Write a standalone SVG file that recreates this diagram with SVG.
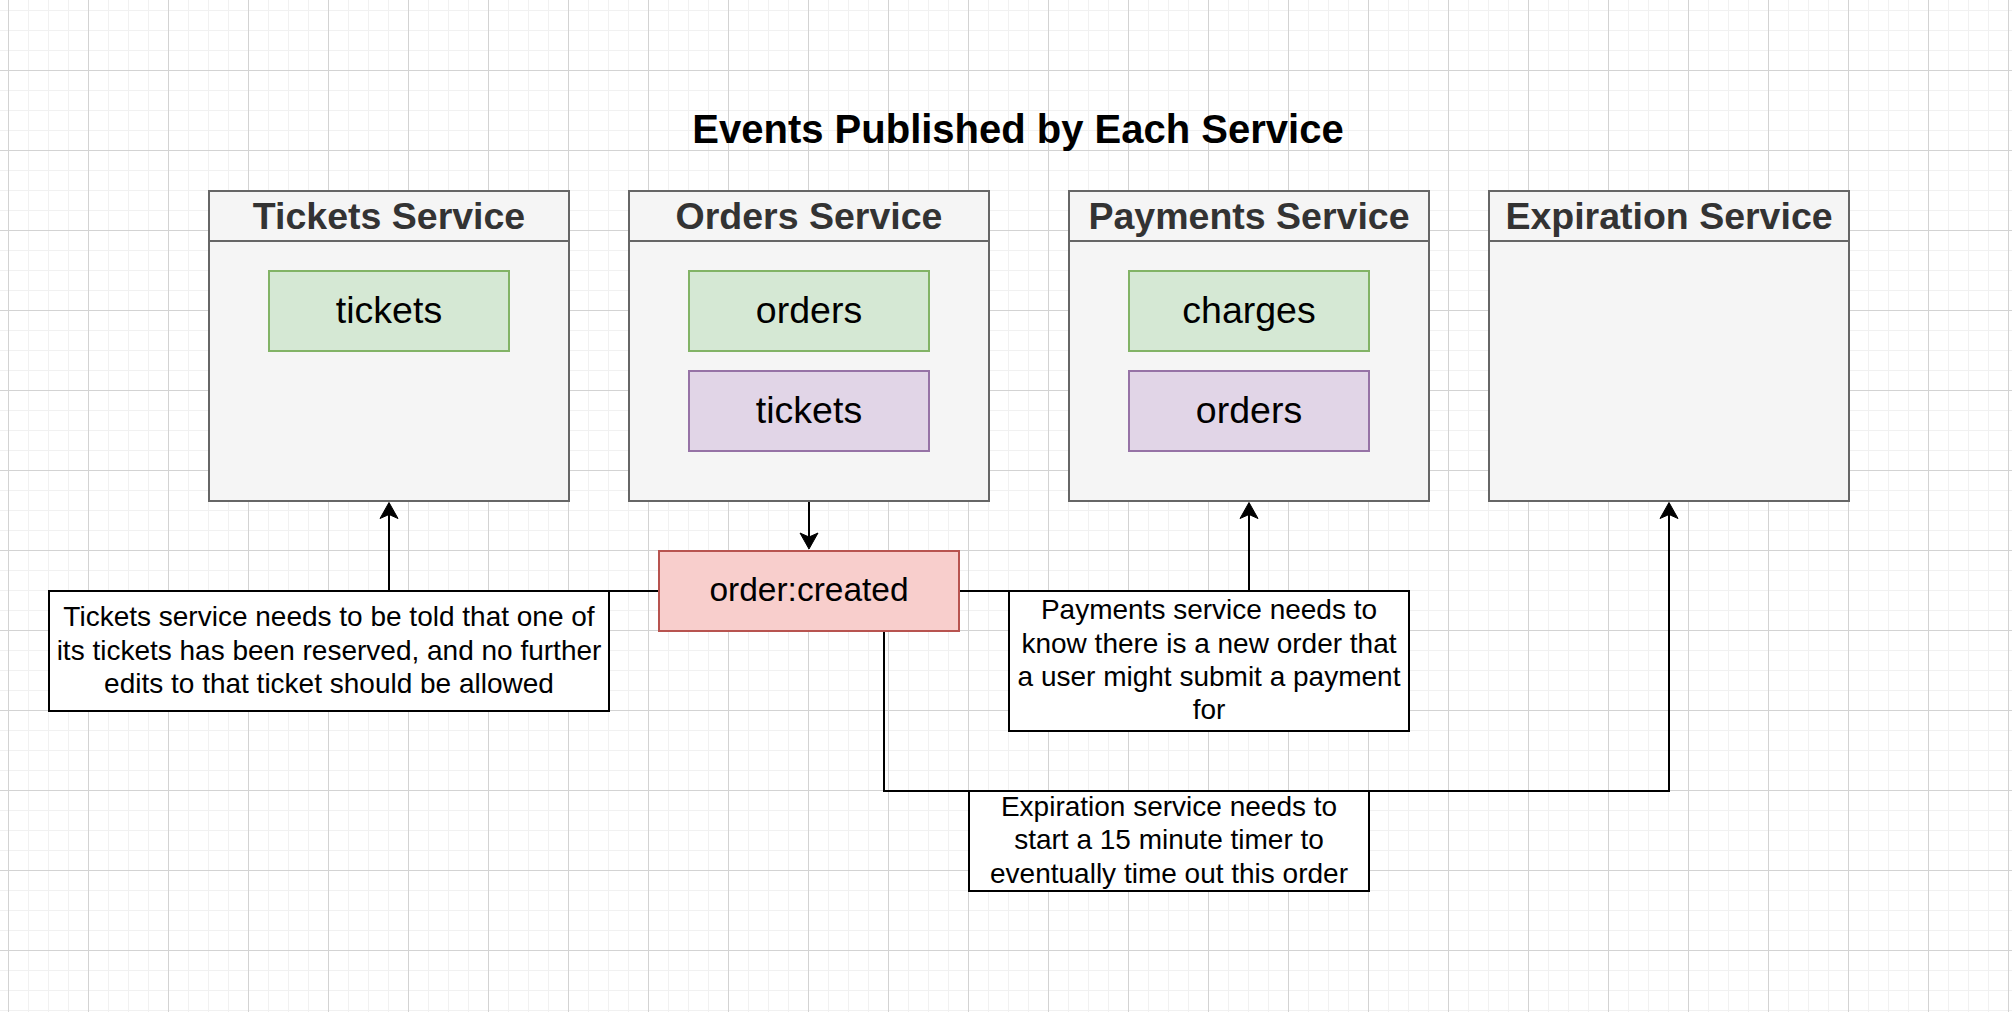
<svg xmlns="http://www.w3.org/2000/svg" width="2012" height="1012" viewBox="0 0 2012 1012">
  <defs>
    <pattern id="gridMinor" width="20" height="20" patternUnits="userSpaceOnUse" x="8" y="10">
      <path d="M0.5,0 V20 M0,0.5 H20" fill="none" stroke="#f1f1f1" stroke-width="1"/>
    </pattern>
    <pattern id="gridMajor" width="80" height="80" patternUnits="userSpaceOnUse" x="8" y="70">
      <path d="M0.5,0 V80 M0,0.5 H80" fill="none" stroke="#d3d3d3" stroke-width="1"/>
    </pattern>
    <marker id="arrow" viewBox="-13 -10 18 20" markerWidth="18" markerHeight="20" refX="0" refY="0" orient="auto" markerUnits="userSpaceOnUse" overflow="visible">
      <path d="M4,0 L-12,-9 L-8,0 L-12,9 Z" fill="#000" stroke="#000" stroke-width="1" stroke-linejoin="miter"/>
    </marker>
    <style>
      .svc { fill: #f5f5f5; stroke: #666666; stroke-width: 2; }
      .svcTitle { font-family: "Liberation Sans", Arial, Helvetica, sans-serif; font-size: 37.5px; font-weight: bold; fill: #333333; text-anchor: middle; }
      .green { fill: #d5e8d4; stroke: #82b366; stroke-width: 2; }
      .purple { fill: #e1d5e7; stroke: #9673a6; stroke-width: 2; }
      .lbl { font-family: "Liberation Sans", Arial, Helvetica, sans-serif; font-size: 37.5px; fill: #000000; text-anchor: middle; }
      .event { fill: #f8cecc; stroke: #b85450; stroke-width: 2; }
      .eventLbl { font-family: "Liberation Sans", Arial, Helvetica, sans-serif; font-size: 33.5px; fill: #000000; text-anchor: middle; }
      .note { fill: #ffffff; stroke: #000000; stroke-width: 2; }
      .noteTxt { font-family: "Liberation Sans", Arial, Helvetica, sans-serif; font-size: 28px; fill: #000000; text-anchor: middle; }
      .title { font-family: "Liberation Sans", Arial, Helvetica, sans-serif; font-size: 40px; font-weight: bold; fill: #000000; text-anchor: middle; }
      .edge { fill: none; stroke: #000000; stroke-width: 2; marker-end: url(#arrow); }
    </style>
  </defs>

  <rect x="0" y="0" width="2012" height="1012" fill="#ffffff"/>
  <rect x="0" y="0" width="2012" height="1012" fill="url(#gridMinor)"/>
  <rect x="0" y="0" width="2012" height="1012" fill="url(#gridMajor)"/>

  <text id="title" class="title" x="1018" y="143">Events Published by Each Service</text>

  <g id="connectors">
    <path id="e-orders-created" class="edge" d="M809,502 V545"/>
    <path id="e-created-tickets" class="edge" d="M659,591 H389 V506.5"/>
    <path id="e-created-payments" class="edge" d="M959,591 H1249 V506.5"/>
    <path id="e-created-expiration" class="edge" d="M884,631 V791 H1669 V506.5"/>
  </g>

  <g id="tickets-service">
    <rect class="svc" x="209" y="191" width="360" height="310"/>
    <line x1="209" y1="241" x2="569" y2="241" stroke="#666666" stroke-width="2"/>
    <text class="svcTitle" x="389" y="229">Tickets Service</text>
    <g id="tickets-service-tickets">
      <rect class="green" x="269" y="271" width="240" height="80"/>
      <text class="lbl" x="389" y="323">tickets</text>
    </g>
  </g>

  <g id="orders-service">
    <rect class="svc" x="629" y="191" width="360" height="310"/>
    <line x1="629" y1="241" x2="989" y2="241" stroke="#666666" stroke-width="2"/>
    <text class="svcTitle" x="809" y="229">Orders Service</text>
    <g id="orders-service-orders">
      <rect class="green" x="689" y="271" width="240" height="80"/>
      <text class="lbl" x="809" y="323">orders</text>
    </g>
    <g id="orders-service-tickets">
      <rect class="purple" x="689" y="371" width="240" height="80"/>
      <text class="lbl" x="809" y="423">tickets</text>
    </g>
  </g>

  <g id="payments-service">
    <rect class="svc" x="1069" y="191" width="360" height="310"/>
    <line x1="1069" y1="241" x2="1429" y2="241" stroke="#666666" stroke-width="2"/>
    <text class="svcTitle" x="1249" y="229">Payments Service</text>
    <g id="payments-service-charges">
      <rect class="green" x="1129" y="271" width="240" height="80"/>
      <text class="lbl" x="1249" y="323">charges</text>
    </g>
    <g id="payments-service-orders">
      <rect class="purple" x="1129" y="371" width="240" height="80"/>
      <text class="lbl" x="1249" y="423">orders</text>
    </g>
  </g>

  <g id="expiration-service">
    <rect class="svc" x="1489" y="191" width="360" height="310"/>
    <line x1="1489" y1="241" x2="1849" y2="241" stroke="#666666" stroke-width="2"/>
    <text class="svcTitle" x="1669" y="229">Expiration Service</text>
  </g>

  <g id="order-created">
    <rect class="event" x="659" y="551" width="300" height="80"/>
    <text class="eventLbl" x="809" y="601">order:created</text>
  </g>

  <g id="note-tickets">
    <rect class="note" x="49" y="591" width="560" height="120"/>
    <text class="noteTxt" x="329" y="626">Tickets service needs to be told that one of</text>
    <text class="noteTxt" x="329" y="660">its tickets has been reserved, and no further</text>
    <text class="noteTxt" x="329" y="693">edits to that ticket should be allowed</text>
  </g>

  <g id="note-payments">
    <rect class="note" x="1009" y="591" width="400" height="140"/>
    <text class="noteTxt" x="1209" y="619">Payments service needs to</text>
    <text class="noteTxt" x="1209" y="653">know there is a new order that</text>
    <text class="noteTxt" x="1209" y="686">a user might submit a payment</text>
    <text class="noteTxt" x="1209" y="719">for</text>
  </g>

  <g id="note-expiration">
    <rect class="note" x="969" y="791" width="400" height="100"/>
    <text class="noteTxt" x="1169" y="816">Expiration service needs to</text>
    <text class="noteTxt" x="1169" y="849">start a 15 minute timer to</text>
    <text class="noteTxt" x="1169" y="883">eventually time out this order</text>
  </g>
</svg>
